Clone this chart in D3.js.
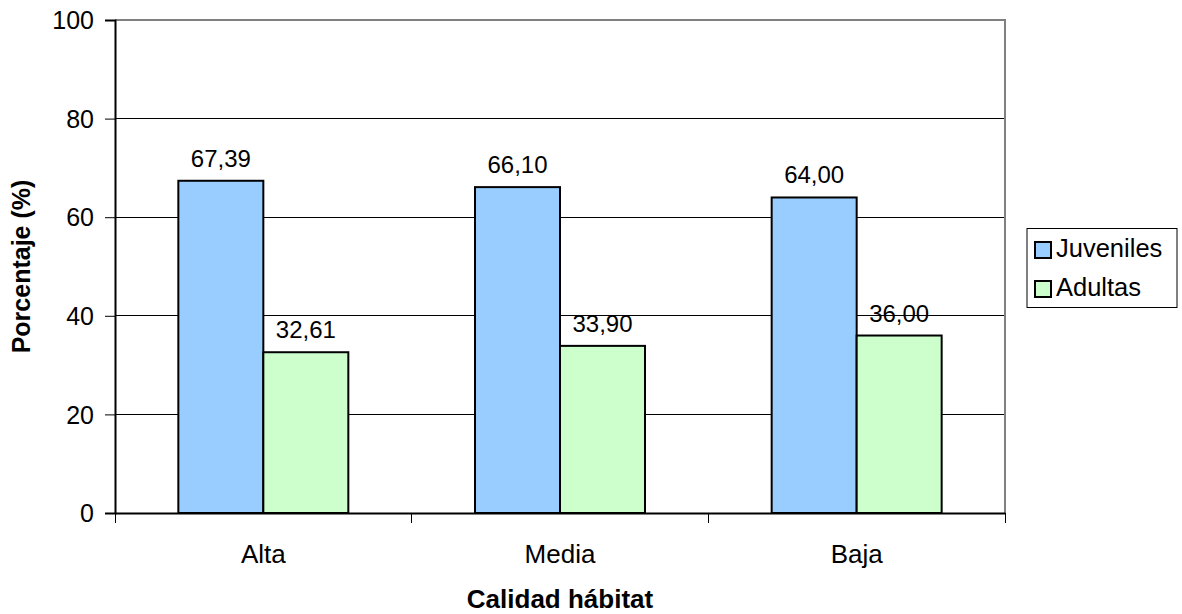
<!DOCTYPE html>
<html>
<head>
<meta charset="utf-8">
<script src="https://cdn.jsdelivr.net/npm/d3@7"></script>
<style>
  html, body { margin: 0; padding: 0; background: #fff; }
  svg text { font-family: "Liberation Sans", Arial, sans-serif; fill: #000; }
</style>
</head>
<body>
<svg id="chart" width="1182" height="614"></svg>
<script>
const categories = ["Alta", "Media", "Baja"];
const seriesNames = ["Juveniles", "Adultas"];
const juveniles = [67.39, 66.10, 64.00];
const adultas = [32.61, 33.90, 36.00];
const yTicks = [0, 20, 40, 60, 80, 100];
const colors = ["#99ccff", "#ccffcc"];

const series = [juveniles, adultas];
const rows = categories.map((c, i) => ({ cat: c, vals: series.map(s => s[i]) }));

const svg = d3.select("#chart");
const m = { left: 115, right: 1005, top: 20, bottom: 513 };

const x0 = d3.scaleBand().domain(categories).range([m.left, m.right]).padding(0);
const groupGap = x0.bandwidth() * 0.427;
const x1 = d3.scaleBand().domain(d3.range(seriesNames.length))
  .range([groupGap / 2, x0.bandwidth() - groupGap / 2]).padding(0);
const y = d3.scaleLinear().domain([0, 100]).range([m.bottom, m.top]);

const fmt = v => d3.format(".2f")(v).replace(".", ",");

// horizontal gridlines
svg.append("g").selectAll("line").data(yTicks.filter(t => t > 0 && t < 100)).join("line")
  .attr("x1", m.left).attr("x2", m.right)
  .attr("y1", d => y(d)).attr("y2", d => y(d))
  .attr("stroke", "#000").attr("stroke-width", 1).attr("shape-rendering", "crispEdges");

// plot-area frame, top and right in grey
svg.append("path")
  .attr("d", `M${m.left},${m.top}H${m.right}V${m.bottom}`)
  .attr("fill", "none").attr("stroke", "#808080").attr("stroke-width", 2)
  .attr("shape-rendering", "crispEdges");

// bars
const groups = svg.append("g").selectAll("g").data(rows).join("g")
  .attr("transform", d => `translate(${x0(d.cat)},0)`);
groups.selectAll("rect").data(d => d.vals.map((v, k) => ({ v, k }))).join("rect")
  .attr("x", d => x1(d.k))
  .attr("y", d => y(d.v))
  .attr("width", x1.bandwidth())
  .attr("height", d => y(0) - y(d.v))
  .attr("fill", d => colors[d.k])
  .attr("stroke", "#000").attr("stroke-width", 2);

// value labels
groups.selectAll("text").data(d => d.vals.map((v, k) => ({ v, k }))).join("text")
  .attr("x", d => x1(d.k) + x1.bandwidth() / 2)
  .attr("y", d => y(d.v) - 14)
  .attr("text-anchor", "middle")
  .style("font-size", "24px")
  .text(d => fmt(d.v));

// y axis
const yAxis = svg.append("g").attr("transform", `translate(${m.left},0)`)
  .call(d3.axisLeft(y).tickValues(yTicks).tickSize(10).tickPadding(11).tickFormat(d3.format("d")));
yAxis.select(".domain").attr("stroke", "#000").attr("stroke-width", 2);
yAxis.selectAll(".tick line").attr("stroke", "#000");
yAxis.selectAll("text").style("font-size", "25px").attr("fill", "#000").attr("dy", "0.35em");

// x axis
const xAxis = svg.append("g").attr("transform", `translate(0,${m.bottom})`)
  .call(d3.axisBottom(x0).tickSize(0).tickPadding(0));
xAxis.select(".domain").attr("stroke", "#000").attr("stroke-width", 2);
xAxis.selectAll("text").style("font-size", "26px").attr("fill", "#000")
  .attr("dy", null).attr("y", 563 - m.bottom);
// category separators below the axis
const edges = categories.map(c => x0(c)).concat([m.right]);
svg.append("g").selectAll("line").data(edges).join("line")
  .attr("x1", d => d).attr("x2", d => d)
  .attr("y1", m.bottom).attr("y2", m.bottom + 10)
  .attr("stroke", "#000").attr("shape-rendering", "crispEdges");

// axis titles
svg.append("text")
  .attr("x", (m.left + m.right) / 2).attr("y", 608)
  .attr("text-anchor", "middle")
  .style("font-size", "26px").style("font-weight", "bold")
  .text("Calidad hábitat");
svg.append("text")
  .attr("transform", `translate(30,${(m.top + m.bottom) / 2}) rotate(-90)`)
  .attr("text-anchor", "middle")
  .style("font-size", "25px").style("font-weight", "bold")
  .text("Porcentaje (%)");

// legend
const lg = svg.append("g").attr("transform", "translate(1027,228.5)");
lg.append("rect").attr("width", 150).attr("height", 79)
  .attr("fill", "#fff").attr("stroke", "#000").attr("stroke-width", 1);
seriesNames.forEach((n, k) => {
  const row = lg.append("g").attr("transform", `translate(8,${13.5 + k * 39})`);
  row.append("rect").attr("width", 16).attr("height", 16)
    .attr("fill", colors[k]).attr("stroke", "#000").attr("stroke-width", 2);
  row.append("text").attr("x", 21).attr("y", 15)
    .style("font-size", "25.5px").text(n);
});
</script>
</body>
</html>
